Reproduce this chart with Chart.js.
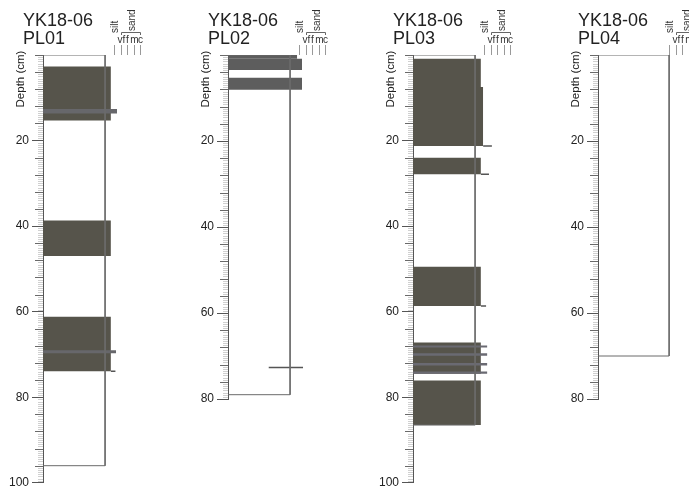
<!DOCTYPE html>
<html>
<head>
<meta charset="utf-8">
<script src="https://cdn.jsdelivr.net/npm/chart.js@4"></script>
<style>
  html, body { margin: 0; padding: 0; background: #fff; }
  body { position: relative; width: 689px; height: 493px; overflow: hidden;
         font-family: "Liberation Sans", Arial, sans-serif; }
  canvas { position: absolute; top: 0; }
  .title { position: absolute; top: 11px; font-size: 18px; line-height: 18px; color: #222; white-space: nowrap; }
  .depth { position: absolute; font-size: 11.5px; color: #222; white-space: nowrap;
           transform: translate(-50%, -50%) rotate(-90deg); }
</style>
</head>
<body>
<script>
// ---- data (depth in cm, grain on the log's width scale) ----
const site = 'YK18-06';
const cores = ['PL01', 'PL02', 'PL03', 'PL04'];
const axisMax = [100, 80, 100, 80];
const coreLength = [96, 79, 86.5, 70];
const coreWidth = [9.6, 9.6, 9.6, 11];
const grainLabels = ['silt', 'vf', 'f', 'm', 'c'];
const grainValues = [11, 12, 13, 14, 15];

// beds: [top, base, grain]
const beds01 = [[2.7, 15.3, 10.5], [38.7, 47.0, 10.5], [61.2, 73.9, 10.5]];
const beds02 = [[0, 0.9, 10.7], [0.9, 3.5, 11.45], [5.3, 8.1, 11.45]];
const beds03 = [[0.9, 7.5, 10.5], [7.5, 21.3, 10.85], [24.0, 27.9, 10.5], [49.5, 58.7, 10.5],
                [67.2, 74.5, 10.5], [76.1, 86.5, 10.5]];
const beds04 = [];

// thin coarser laminae: [top, base, grain]
const lamina01 = [[12.6, 13.7, 11.45], [69.0, 69.7, 11.3]];
const lamina02 = [];
const lamina03 = [[67.9, 68.4, 11.5], [69.7, 70.3, 11.5], [72.0, 72.6, 11.5], [74.0, 74.5, 11.5]];
const lamina04 = [];

// horizontal marks: [depth, from, to]
const marks01 = [[73.9, 10.5, 11.2]];
const marks02 = [[72.7, 6.3, 11.6]];
const marks03 = [[21.3, 10.85, 12.2], [27.9, 10.5, 11.75], [58.7, 10.5, 11.3]];
const marks04 = [];

const allBeds = [beds01, beds02, beds03, beds04];
const allLamina = [lamina01, lamina02, lamina03, lamina04];
const allMarks = [marks01, marks02, marks03, marks04];

// ---- layout / style ----
const FONT = '"Liberation Sans", Arial, sans-serif';
const axisLeft = [43, 228, 413, 598];
const AXIS_W = 43;
const PLOT_W = 97;
const TOP = 55;
const PX_PER_CM = 4.3;
const bedColor = ['#56544b', '#5d5d5d', '#56544b', '#56544b'];
const laminaColor = ['#67676b', '#67676b', '#6a6a72', '#6a6a72'];

const depthTicks = {
  id: 'depthTicks',
  afterDraw(chart) {
    const {ctx, scales: {y}} = chart;
    const x0 = y.right;
    ctx.save();
    ctx.lineWidth = 1;
    for (let i = 0; i <= y.max * 2; i++) {
      const d = i / 2;
      if (d > 0 && d % 20 === 0) continue;
      const py = Math.round(y.getPixelForValue(d)) + 0.5;
      let len = 5, col = '#d0d0d0';
      if (d % 4 === 0) { len = 8; col = '#6a6a6a'; }
      ctx.strokeStyle = col;
      ctx.beginPath();
      ctx.moveTo(x0 - len, py);
      ctx.lineTo(x0, py);
      ctx.stroke();
    }
    ctx.restore();
  }
};

const grainHeader = {
  id: 'grainHeader',
  afterDraw(chart) {
    const {ctx, scales: {x}} = chart;
    ctx.save();
    ctx.font = '10px ' + FONT;
    ctx.fillStyle = '#333';
    ctx.strokeStyle = '#999';
    ctx.lineWidth = 1;
    const px = grainValues.map(g => Math.round(x.getPixelForValue(g)) + 0.5);
    px.forEach((p, i) => {
      ctx.beginPath();
      ctx.moveTo(p, 45);
      ctx.lineTo(p, 55);
      ctx.stroke();
      if (i > 0) {
        ctx.textAlign = 'center';
        ctx.textBaseline = 'alphabetic';
        ctx.fillText(grainLabels[i], p, 43);
      }
    });
    // silt, rotated
    ctx.save();
    ctx.translate(px[0] + 3.5, 33);
    ctx.rotate(-Math.PI / 2);
    ctx.textAlign = 'left';
    ctx.textBaseline = 'alphabetic';
    ctx.fillText(grainLabels[0], 0, 0);
    ctx.restore();
    // sand bracket
    ctx.strokeStyle = '#666';
    ctx.beginPath();
    ctx.moveTo(px[1], 35);
    ctx.lineTo(px[1], 32.5);
    ctx.lineTo(px[4], 32.5);
    ctx.lineTo(px[4], 35);
    ctx.stroke();
    ctx.save();
    ctx.translate((px[1] + px[4]) / 2 + 3.5, 31);
    ctx.rotate(-Math.PI / 2);
    ctx.textAlign = 'left';
    ctx.fillText('sand', 0, 0);
    ctx.restore();
    ctx.restore();
  }
};

function rectSet(top, base, grain, color, order) {
  return {
    data: [{x: 0, y: top}, {x: grain, y: top}],
    fill: {value: base},
    backgroundColor: color,
    borderColor: 'rgba(0,0,0,0)',
    borderWidth: 0,
    pointRadius: 0,
    order: order
  };
}

cores.forEach((core, k) => {
  const datasets = [];
  allBeds[k].forEach(b => datasets.push(rectSet(b[0], b[1], b[2], bedColor[k], 3)));
  allLamina[k].forEach(b => datasets.push(rectSet(b[0], b[1], b[2], laminaColor[k], 2)));
  allMarks[k].forEach(m => datasets.push({
    data: [{x: m[1], y: m[0]}, {x: m[2], y: m[0]}],
    borderColor: '#555', borderWidth: 1.5, pointRadius: 0, fill: false, order: 1
  }));
  datasets.push({
    data: [{x: 0, y: 0}, {x: coreWidth[k], y: 0}, {x: coreWidth[k], y: coreLength[k]}, {x: 0, y: coreLength[k]}],
    borderColor: '#6b6b6b', borderWidth: 1, pointRadius: 0, fill: false, order: 0
  });

  const cv = document.createElement('canvas');
  const left = axisLeft[k] - AXIS_W;
  cv.width = 170; cv.height = 493;
  cv.style.left = left + 'px';
  cv.style.width = '170px'; cv.style.height = '493px';
  document.body.appendChild(cv);

  const bottomPx = TOP + axisMax[k] * PX_PER_CM;

  new Chart(cv, {
    type: 'line',
    data: {datasets},
    options: {
      responsive: false,
      animation: false,
      devicePixelRatio: 1,
      events: [],
      layout: {padding: {top: TOP, bottom: 493 - bottomPx, left: 0, right: 170 - AXIS_W - PLOT_W}},
      plugins: {legend: {display: false}, tooltip: {enabled: false}},
      elements: {line: {tension: 0}},
      scales: {
        x: {type: 'linear', display: false, min: 0, max: 15},
        y: {
          type: 'linear', reverse: true, min: 0, max: axisMax[k],
          afterFit: s => { s.width = AXIS_W; },
          border: {display: true, color: '#555', width: 1},
          grid: {
            drawOnChartArea: false, drawTicks: true, tickLength: 11,
            tickColor: c => (c.tick && c.tick.value === 0) ? 'rgba(0,0,0,0)' : '#555'
          },
          ticks: {
            stepSize: 20, padding: 3, color: '#222',
            font: {size: 12, family: FONT},
            callback: v => v === 0 ? '' : v
          }
        }
      }
    },
    plugins: [depthTicks, grainHeader]
  });

  const t = document.createElement('div');
  t.className = 'title';
  t.style.left = (axisLeft[k] - 20) + 'px';
  t.innerHTML = site + '<br>' + core;
  document.body.appendChild(t);

  const d = document.createElement('div');
  d.className = 'depth';
  d.style.left = (axisLeft[k] - 23) + 'px';
  d.style.top = '79px';
  d.textContent = 'Depth (cm)';
  document.body.appendChild(d);
});
</script>
</body>
</html>
